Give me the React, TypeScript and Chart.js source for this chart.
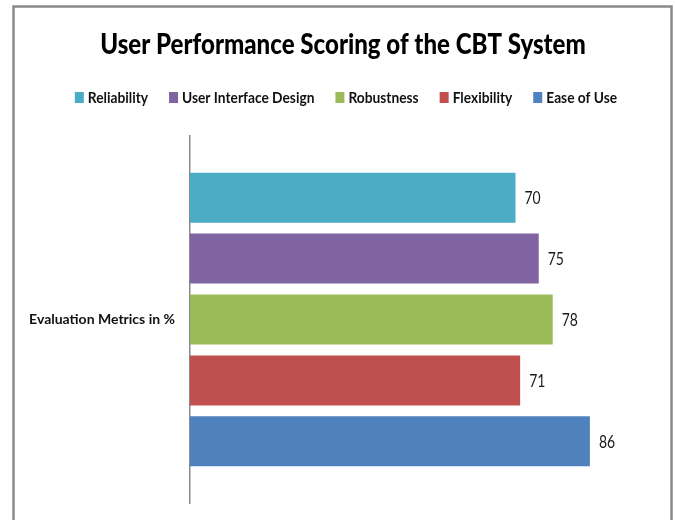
import React, { useEffect, useRef } from "react";
import { Chart, registerables } from "chart.js";

Chart.register(...registerables);

const categories = ["Evaluation Metrics in %"];
const seriesNames = ["Reliability", "User Interface Design", "Robustness", "Flexibility", "Ease of Use"];
const seriesValues = [[70], [75], [78], [71], [86]];
const seriesColors = ["#4BACC6", "#8064A2", "#9BBB59", "#C0504D", "#4F81BD"];
const titleText = "User Performance Scoring of the CBT System";

const FONT = "Lato, 'Open Sans', sans-serif";

function drawCondensed(ctx: CanvasRenderingContext2D, text: string, x: number, y: number, sx: number, align: "left" | "center") {
  ctx.save();
  ctx.translate(x, y);
  ctx.scale(sx, 1);
  ctx.textAlign = align;
  ctx.fillText(text, 0, 0);
  ctx.restore();
}

const framePlugin = {
  id: "frame",
  beforeDraw(chart: any) {
    const ctx = chart.ctx;
    ctx.save();
    ctx.fillStyle = "#ffffff";
    ctx.fillRect(0, 0, chart.width, chart.height);
    ctx.strokeStyle = "#8a8a8a";
    ctx.lineWidth = 2.5;
    ctx.strokeRect(13.5, 6.5, 658, 600);
    ctx.restore();
  },
};

const headerPlugin = {
  id: "header",
  afterDraw(chart: any) {
    const ctx: CanvasRenderingContext2D = chart.ctx;
    ctx.save();
    ctx.textBaseline = "alphabetic";
    // Title
    ctx.fillStyle = "#000";
    ctx.font = "900 29px " + FONT;
    drawCondensed(ctx, titleText, 343, 54, 0.83, "center");

    // Legend
    const sx = 0.86;
    const boxW = 9;
    const boxH = 11;
    const gapText = 4;
    const gapItem = 21;
    ctx.font = "bold 16px " + FONT;
    const items = chart.data.datasets.map((ds: any) => ({
      label: ds.label as string,
      color: ds.backgroundColor as string,
      w: ctx.measureText(ds.label).width * sx,
    }));
    const total = items.reduce((s: number, it: any) => s + boxW + gapText + it.w, 0) + gapItem * (items.length - 1);
    let x = 346 - total / 2;
    items.forEach((it: any) => {
      ctx.fillStyle = it.color;
      ctx.fillRect(x, 92, boxW, boxH);
      ctx.fillStyle = "#111";
      drawCondensed(ctx, it.label, x + boxW + gapText, 103, sx, "left");
      x += boxW + gapText + it.w + gapItem;
    });

    // Value labels
    ctx.font = "17px " + FONT;
    ctx.fillStyle = "#1a1a1a";
    ctx.textBaseline = "middle";
    chart.data.datasets.forEach((ds: any, i: number) => {
      const meta = chart.getDatasetMeta(i);
      meta.data.forEach((bar: any, j: number) => {
        drawCondensed(ctx, String(ds.data[j]), bar.x + 9, bar.y + 1, 0.82, "left");
      });
    });
    ctx.restore();
  },
};

export default function App() {
  const ref = useRef<HTMLCanvasElement>(null);
  useEffect(() => {
    if (!ref.current) return;
    const chart = new Chart(ref.current, {
      type: "bar",
      data: {
        labels: categories,
        datasets: seriesNames.map((name, i) => ({
          label: name,
          data: seriesValues[i],
          backgroundColor: seriesColors[i],
          borderWidth: 0,
          barPercentage: 0.82,
          categoryPercentage: 0.83,
        })),
      },
      options: {
        indexAxis: "y",
        responsive: false,
        animation: false,
        layout: { padding: { top: 136, right: 20, bottom: 17, left: 0 } },
        plugins: {
          title: { display: false },
          legend: { display: false },
          tooltip: { enabled: false },
        },
        scales: {
          x: { display: false, min: 0, max: 100 },
          y: {
            grid: { display: false },
            border: { display: true, color: "#8a8a8a", width: 1.5 },
            ticks: {
              padding: 7,
              color: "#111",
              font: { family: FONT, size: 14, weight: "bold" },
            },
            afterFit(scale: any) {
              scale.width = 190;
            },
          },
        },
      },
      plugins: [framePlugin, headerPlugin],
    } as any);
    return () => chart.destroy();
  }, []);
  return (
    <div style={{ position: "absolute", left: 0, top: 0, width: 675, height: 520 }}>
      <canvas ref={ref} width={675} height={520} />
    </div>
  );
}
